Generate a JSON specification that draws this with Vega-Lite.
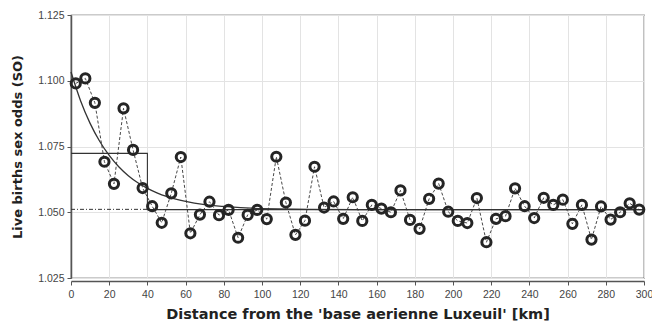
{
  "$schema": "https://vega.github.io/schema/vega-lite/v6.json",
  "width": 573,
  "height": 263,
  "autosize": {"type": "none"},
  "padding": {"left": 71, "top": 15, "right": 8, "bottom": 49},
  "background": "white",
  "config": {
    "view": {"stroke": "#333", "strokeWidth": 1.2},
    "font": "Liberation Sans",
    "axis": {
      "labelFont": "Liberation Sans",
      "labelFontSize": 10.5,
      "labelColor": "#444",
      "titleFont": "DejaVu Sans",
      "titleFontSize": 13,
      "titleFontWeight": "bold",
      "titleColor": "#222",
      "gridColor": "#e3e3e3",
      "gridWidth": 1,
      "domainColor": "#555",
      "domainWidth": 1.5,
      "tickColor": "#555",
      "tickSize": 4
    }
  },
  "datasets": {
    "pts": [
      {"d": 2.5, "so": 1.0990}, {"d": 7.5, "so": 1.1009}, {"d": 12.5, "so": 1.0916}, {"d": 17.5, "so": 1.0692},
      {"d": 22.5, "so": 1.0608}, {"d": 27.5, "so": 1.0895}, {"d": 32.5, "so": 1.0737}, {"d": 37.5, "so": 1.0592},
      {"d": 42.5, "so": 1.0523}, {"d": 47.5, "so": 1.0460}, {"d": 52.5, "so": 1.0572}, {"d": 57.5, "so": 1.0710},
      {"d": 62.5, "so": 1.0420}, {"d": 67.5, "so": 1.0491}, {"d": 72.5, "so": 1.0540}, {"d": 77.5, "so": 1.0489},
      {"d": 82.5, "so": 1.0509}, {"d": 87.5, "so": 1.0403}, {"d": 92.5, "so": 1.0490}, {"d": 97.5, "so": 1.0509},
      {"d": 102.5, "so": 1.0474}, {"d": 107.5, "so": 1.0711}, {"d": 112.5, "so": 1.0537}, {"d": 117.5, "so": 1.0414},
      {"d": 122.5, "so": 1.0468}, {"d": 127.5, "so": 1.0673}, {"d": 132.5, "so": 1.0518}, {"d": 137.5, "so": 1.0541},
      {"d": 142.5, "so": 1.0475}, {"d": 147.5, "so": 1.0557}, {"d": 152.5, "so": 1.0467}, {"d": 157.5, "so": 1.0528},
      {"d": 162.5, "so": 1.0514}, {"d": 167.5, "so": 1.0500}, {"d": 172.5, "so": 1.0583}, {"d": 177.5, "so": 1.0471},
      {"d": 182.5, "so": 1.0437}, {"d": 187.5, "so": 1.0551}, {"d": 192.5, "so": 1.0609}, {"d": 197.5, "so": 1.0502},
      {"d": 202.5, "so": 1.0467}, {"d": 207.5, "so": 1.0459}, {"d": 212.5, "so": 1.0554}, {"d": 217.5, "so": 1.0386},
      {"d": 222.5, "so": 1.0475}, {"d": 227.5, "so": 1.0485}, {"d": 232.5, "so": 1.0591}, {"d": 237.5, "so": 1.0523},
      {"d": 242.5, "so": 1.0478}, {"d": 247.5, "so": 1.0555}, {"d": 252.5, "so": 1.0528}, {"d": 257.5, "so": 1.0548},
      {"d": 262.5, "so": 1.0456}, {"d": 267.5, "so": 1.0528}, {"d": 272.5, "so": 1.0396}, {"d": 277.5, "so": 1.0522},
      {"d": 282.5, "so": 1.0472}, {"d": 287.5, "so": 1.0500}, {"d": 292.5, "so": 1.0534}, {"d": 297.5, "so": 1.0510}
    ],
    "fit": [
      {"d": 0, "so": 1.1033}, {"d": 5, "so": 1.0924}, {"d": 10, "so": 1.0838}, {"d": 15, "so": 1.0770},
      {"d": 20, "so": 1.0716}, {"d": 25, "so": 1.0673}, {"d": 30, "so": 1.0639}, {"d": 35, "so": 1.0612},
      {"d": 40, "so": 1.0591}, {"d": 45, "so": 1.0574}, {"d": 50, "so": 1.0560}, {"d": 60, "so": 1.0541},
      {"d": 70, "so": 1.0529}, {"d": 80, "so": 1.0522}, {"d": 100, "so": 1.0514}, {"d": 150, "so": 1.0510},
      {"d": 300, "so": 1.0510}
    ],
    "step": [
      {"k": 1, "d": 0, "so": 1.0724}, {"k": 2, "d": 40, "so": 1.0724},
      {"k": 3, "d": 40, "so": 1.0510}, {"k": 4, "d": 300, "so": 1.0510}
    ],
    "dash": [
      {"d": 0, "so": 1.0511}, {"d": 40, "so": 1.0511}
    ]
  },
  "encoding": {
    "x": {
      "field": "d", "type": "quantitative",
      "scale": {"domain": [0, 300], "nice": false},
      "axis": {"values": [0,20,40,60,80,100,120,140,160,180,200,220,240,260,280,300], "title": "Distance from the 'base aerienne Luxeuil' [km]", "titleFontSize": 14.5, "offset": 3, "labelPadding": 4, "titlePadding": 8, "labelFlush": false}
    },
    "y": {
      "field": "so", "type": "quantitative",
      "scale": {"domain": [1.025, 1.125], "nice": false, "zero": false},
      "axis": {"values": [1.025, 1.05, 1.075, 1.1, 1.125], "format": ".3f", "title": "Live births sex odds (SO)", "labelPadding": 3, "titlePadding": 13}
    }
  },
  "layer": [
    {
      "data": {"name": "step"},
      "mark": {"type": "line", "color": "#333", "strokeWidth": 1.1},
      "encoding": {"order": {"field": "k", "type": "quantitative"}}
    },
    {
      "data": {"name": "dash"},
      "mark": {"type": "line", "color": "#333", "strokeWidth": 1, "strokeDash": [4, 2, 1, 2]},
      "encoding": {}
    },
    {
      "data": {"name": "fit"},
      "mark": {"type": "line", "color": "#333", "strokeWidth": 1.3, "interpolate": "monotone"},
      "encoding": {}
    },
    {
      "data": {"name": "pts"},
      "mark": {"type": "line", "color": "#333", "strokeWidth": 0.9, "strokeDash": [3, 2]},
      "encoding": {}
    },
    {
      "data": {"name": "pts"},
      "mark": {"type": "point", "shape": "circle", "filled": false, "color": "#252525", "strokeWidth": 3, "size": 85, "opacity": 1},
      "encoding": {}
    }
  ]
}
